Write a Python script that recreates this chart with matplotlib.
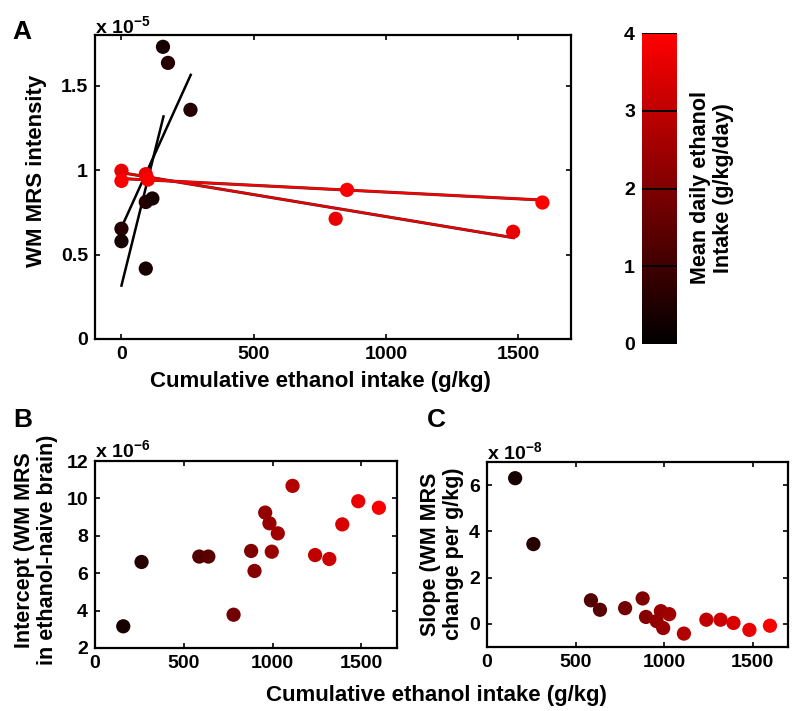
import numpy as np
import matplotlib
matplotlib.use("Agg")
import matplotlib.pyplot as plt
from matplotlib.colors import LinearSegmentedColormap, Normalize
from matplotlib.cm import ScalarMappable

plt.rcParams['font.family'] = ['Liberation Sans', 'DejaVu Sans']
plt.rcParams['font.weight'] = 'bold'
plt.rcParams['mathtext.fontset'] = 'custom'
plt.rcParams['mathtext.rm'] = 'Liberation Sans:bold'
plt.rcParams['mathtext.bf'] = 'Liberation Sans:bold'
plt.rcParams['mathtext.it'] = 'Liberation Sans:bold'
plt.rcParams['mathtext.default'] = 'rm'

# ---------------- data ----------------
# per-animal summary (panels B and C)
cumulative = [159, 262, 587, 638, 780, 879, 898, 958, 982, 995, 1029, 1112,
              1239, 1319, 1392, 1482, 1598]                       # g/kg
intercept_e6 = [3.16, 6.6, 6.89, 6.89, 3.78, 7.19, 6.12, 9.24, 8.67, 7.15,
                8.13, 10.67, 6.97, 6.76, 8.61, 9.85, 9.5]          # x 1e-6
slope_e8 = [6.30, 3.45, 1.02, 0.61, 0.68, 1.10, 0.30, 0.12, 0.55, -0.18,
            0.42, -0.42, 0.18, 0.18, 0.04, -0.26, -0.08]           # x 1e-8
daily_intake = [0.35, 0.6, 1.3, 1.4, 1.8, 2.0, 2.1, 2.3, 2.35, 2.4, 2.5,
                2.8, 3.0, 3.2, 3.4, 3.65, 3.95]                    # g/kg/day

# panel A: individual scans for lowest and highest drinkers
a_animals = [0, 1, 15, 16]
a_x = [0, 0, 92, 92, 117, 157, 176, 261,
       0, 0, 92, 100, 810, 853, 1481, 1592]
a_y_e5 = [0.653, 0.579, 0.417, 0.811, 0.832, 1.730, 1.635, 1.357,
          0.996, 0.936, 0.976, 0.944, 0.712, 0.883, 0.635, 0.808]  # x 1e-5
a_c = [0.6, 0.35, 0.35, 0.6, 0.35, 0.35, 0.6, 0.6,
       3.65, 3.95, 3.65, 3.95, 3.65, 3.95, 3.65, 3.95]

x_ticks = [0, 500, 1000, 1500]
a_yticks = [0, 0.5, 1, 1.5]
b_yticks = [2, 4, 6, 8, 10, 12]
c_yticks = [0, 2, 4, 6]
cb_ticks = [0, 1, 2, 3, 4]

xlabel = "Cumulative ethanol intake (g/kg)"

# ---------------- figure ----------------
W, H = 800, 711
fig = plt.figure(figsize=(W / 100, H / 100), dpi=100)
cmap = LinearSegmentedColormap.from_list("blackred", [(0, 0, 0), (1, 0, 0)])
norm = Normalize(0, 4)


def rect(x0, y0, x1, y1):
    return [x0 / W, 1 - y1 / H, (x1 - x0) / W, (y1 - y0) / H]


def fx(px):
    return px / W


def fy(py):
    return 1 - py / H


TICK_FS = 14
LAB_FS = 16
LAB2_FS = 15.5


def style(ax):
    for s in ax.spines.values():
        s.set_linewidth(1.6)
    ax.tick_params(direction='in', length=3.5, width=1.2, top=True, right=True,
                   labelsize=TICK_FS, pad=5)
    for t in ax.get_xticklabels() + ax.get_yticklabels():
        t.set_fontweight('bold')


MS = 105

# Panel A
axA = fig.add_axes(rect(95, 35, 571, 339))
a_x_arr = np.array(a_x)
a_y_arr = np.array(a_y_e5)
a_c_arr = np.array(a_c)
low = a_c_arr < 2
for idx in a_animals[:2]:
    xs = np.array([0, cumulative[idx]])
    ys = (intercept_e6[idx] * 1e-6 + slope_e8[idx] * 1e-8 * xs) / 1e-5
    axA.plot(xs, ys, color='black', lw=1.8, zorder=2)
axA.scatter(a_x_arr[low], a_y_arr[low], c=a_c_arr[low], cmap=cmap, norm=norm,
            s=MS, edgecolors='none', zorder=3)
for idx in a_animals[2:]:
    xs = np.array([0, cumulative[idx]])
    ys = (intercept_e6[idx] * 1e-6 + slope_e8[idx] * 1e-8 * xs) / 1e-5
    axA.plot(xs, ys, color='#333333', lw=2.2, zorder=4)
    axA.plot(xs, ys, color=cmap(norm(daily_intake[idx])), lw=1.7, zorder=5)
axA.scatter(a_x_arr[~low], a_y_arr[~low], c=a_c_arr[~low], cmap=cmap, norm=norm,
            s=MS, edgecolors='none', zorder=6)
axA.set_xlim(-100, 1700)
axA.set_ylim(0, 1.8)
axA.set_xticks(x_ticks)
axA.set_yticks(a_yticks)
axA.set_yticklabels(['0', '0.5', '1', '1.5'])
style(axA)
fig.text(fx(95), fy(33), r'x 10$^{-5}$', fontsize=TICK_FS, fontweight='bold',
         ha='left', va='baseline')
fig.text(fx(37), fy(171), "WM MRS intensity", rotation=90, ha='center',
         va='center', fontsize=LAB_FS, fontweight='bold')
fig.text(fx(320), fy(381), xlabel, ha='center', va='center',
         fontsize=LAB_FS, fontweight='bold')
fig.text(fx(22), fy(32), "A", ha='center', va='center', fontsize=19,
         fontweight='bold')

# Colorbar
cax = fig.add_axes(rect(642, 33, 677, 344))
cb = fig.colorbar(ScalarMappable(norm=norm, cmap=cmap), cax=cax, ticks=cb_ticks)
cb.outline.set_visible(False)
cax.yaxis.set_ticks_position('left')
cax.tick_params(length=0, labelsize=TICK_FS, pad=5)
for t in cax.get_yticklabels():
    t.set_fontweight('bold')
cax.hlines(cb_ticks[1:], 0, 1, colors='black', lw=1.4, transform=cax.get_yaxis_transform())
fig.text(fx(712), fy(188), "Mean daily ethanol\nIntake (g/kg/day)", rotation=90,
         ha='center', va='center', fontsize=LAB2_FS, fontweight='bold',
         linespacing=1.15)

# Panel B
axB = fig.add_axes(rect(95, 461, 397, 648))
axB.scatter(cumulative, intercept_e6, c=daily_intake, cmap=cmap, norm=norm,
            s=MS, edgecolors='none', zorder=3)
axB.set_xlim(0, 1700)
axB.set_ylim(2, 12)
axB.set_xticks(x_ticks)
axB.set_yticks(b_yticks)
style(axB)
fig.text(fx(95), fy(457), r'x 10$^{-6}$', fontsize=TICK_FS, fontweight='bold',
         ha='left', va='baseline')
fig.text(fx(36), fy(550), "Intercept (WM MRS\nin ethanol-naive brain)",
         rotation=90, ha='center', va='center', fontsize=LAB2_FS,
         fontweight='bold', linespacing=1.15)
fig.text(fx(23), fy(420), "B", ha='center', va='center', fontsize=19,
         fontweight='bold')

# Panel C
axC = fig.add_axes(rect(487, 462, 788, 647))
axC.scatter(cumulative, slope_e8, c=daily_intake, cmap=cmap, norm=norm,
            s=MS, edgecolors='none', zorder=3)
axC.set_xlim(0, 1700)
axC.set_ylim(-1, 7)
axC.set_xticks(x_ticks)
axC.set_yticks(c_yticks)
style(axC)
fig.text(fx(487), fy(459), r'x 10$^{-8}$', fontsize=TICK_FS, fontweight='bold',
         ha='left', va='baseline')
fig.text(fx(442), fy(554), "Slope (WM MRS\nchange per g/kg)",
         rotation=90, ha='center', va='center', fontsize=LAB2_FS,
         fontweight='bold', linespacing=1.15)
fig.text(fx(436), fy(420), "C", ha='center', va='center', fontsize=19,
         fontweight='bold')

fig.text(fx(436), fy(695), xlabel, ha='center', va='center',
         fontsize=LAB_FS, fontweight='bold')

fig.savefig("out.png", dpi=100)
